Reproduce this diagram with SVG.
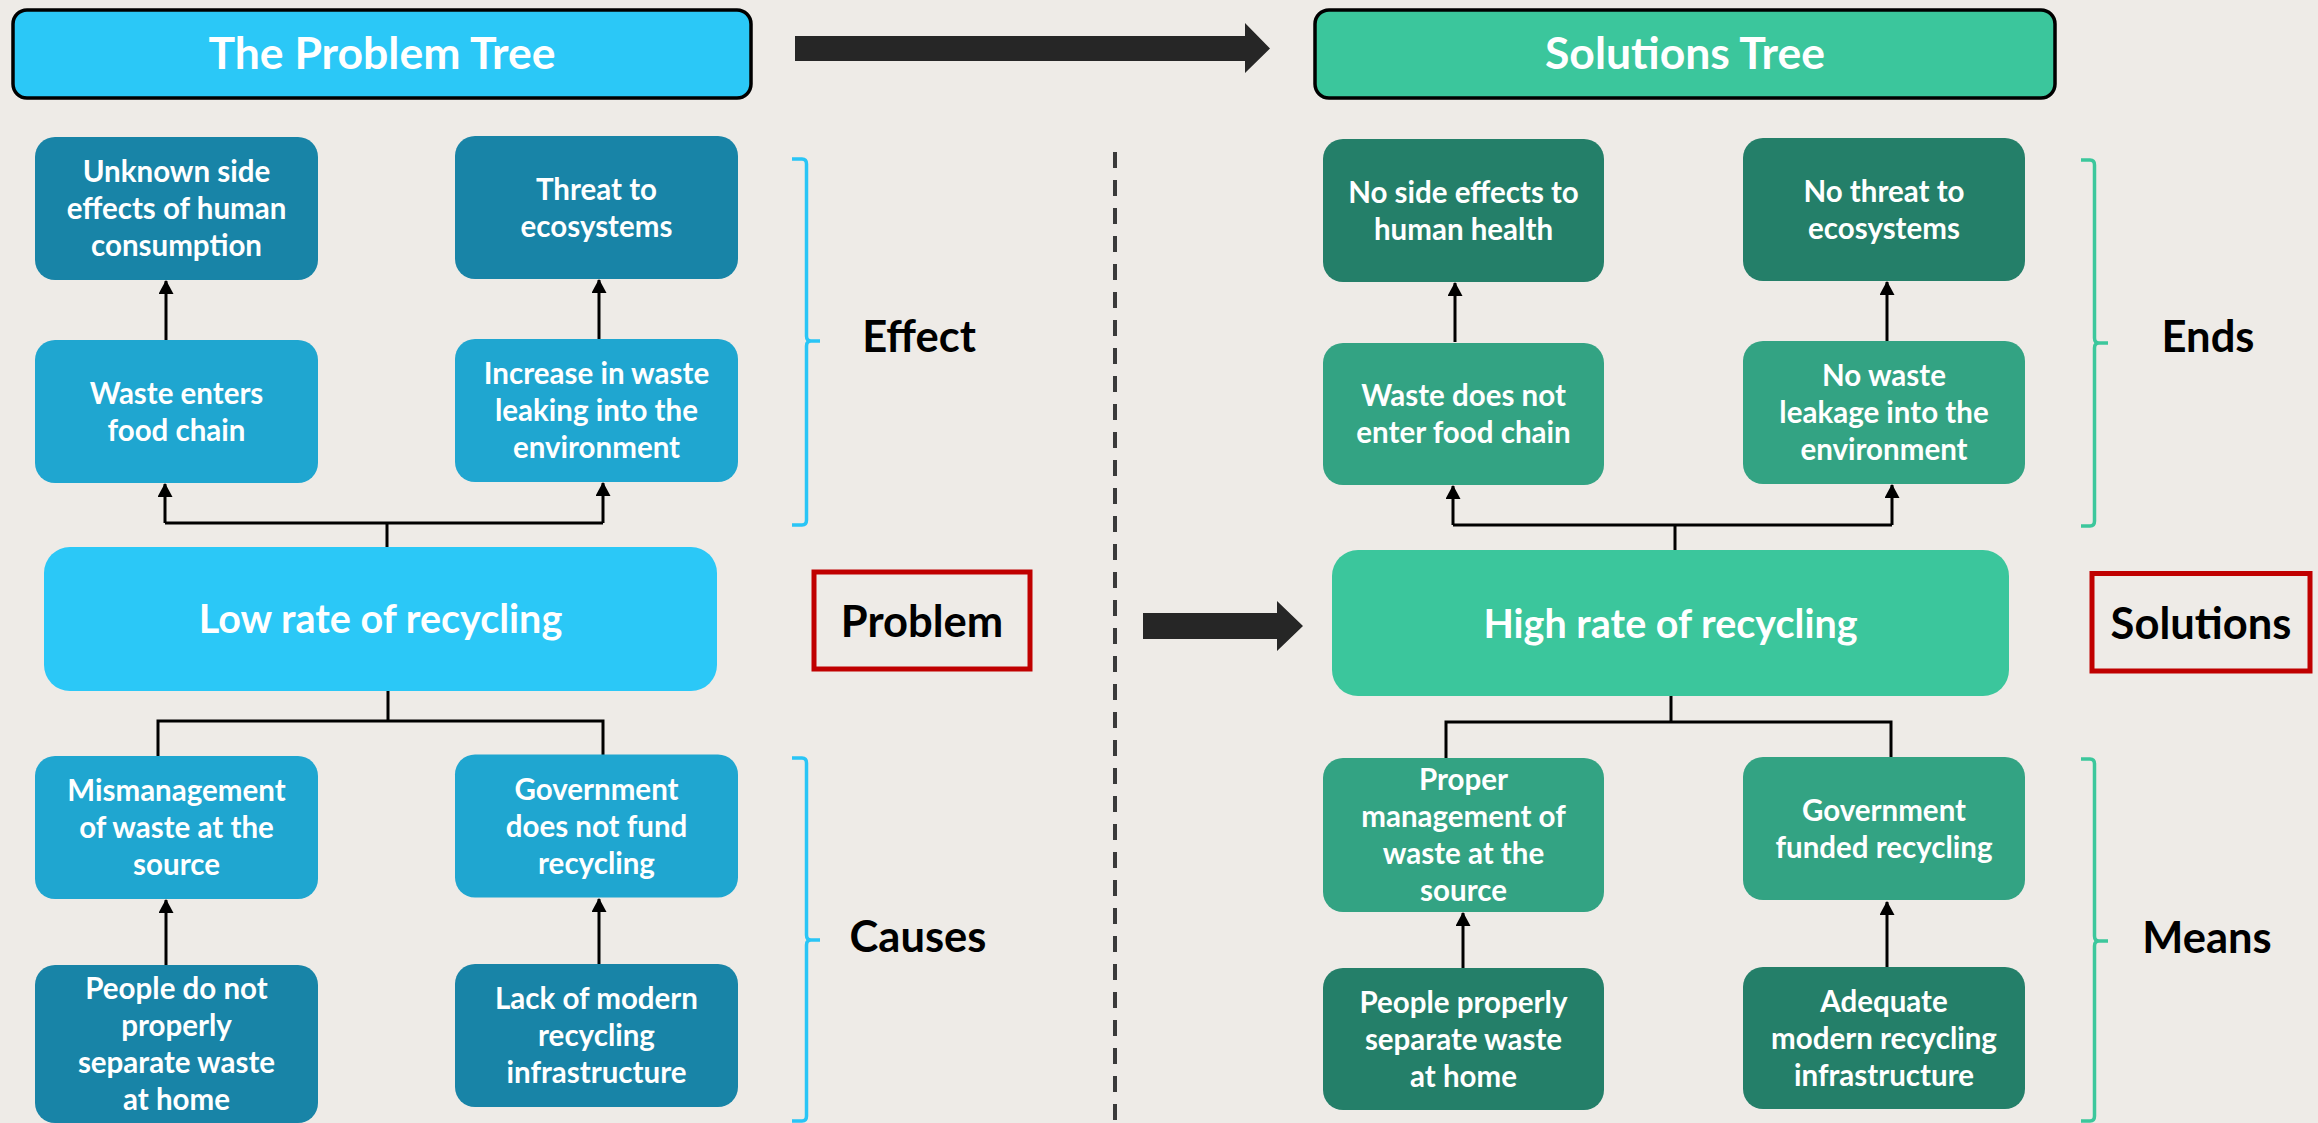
<svg xmlns="http://www.w3.org/2000/svg" width="2318" height="1123" viewBox="0 0 2318 1123">
<defs>
<style>
.nt{font-family:Lato,"Liberation Sans",sans-serif;font-weight:700;font-size:29.5px;fill:#ffffff;text-anchor:middle}
.bt{font-family:Lato,"Liberation Sans",sans-serif;font-weight:700;font-size:39.5px;fill:#ffffff;text-anchor:middle}
.tt{font-family:Lato,"Liberation Sans",sans-serif;font-weight:700;font-size:44.5px;fill:#ffffff;text-anchor:middle}
.lb{font-family:Lato,"Liberation Sans",sans-serif;font-weight:700;font-size:43.5px;fill:#000000;text-anchor:middle}
.db{fill:#1884A7}.mb{fill:#1FA6D0}.lbx{fill:#2BC8F7}
.dg{fill:#247F69}.mg{fill:#33A383}.lg{fill:#3BC69C}
.ttl{stroke:#000;stroke-width:3.5}
.red{fill:none;stroke:#C00000;stroke-width:5}
.con{fill:none;stroke:#000;stroke-width:3}
.arr{fill:none;stroke:#000;stroke-width:3;marker-end:url(#ah)}
.brb{fill:none;stroke:#29C5F6;stroke-width:3.5}
.brg{fill:none;stroke:#3CC79C;stroke-width:3.5}
.big{fill:#262626}
</style>
<marker id="ah" viewBox="0 0 14 15" refX="13" refY="7.5" markerWidth="14" markerHeight="15" markerUnits="userSpaceOnUse" orient="auto">
<path d="M0,0 L14,7.5 L0,15 z" fill="#000"/>
</marker>
</defs>
<rect x="0" y="0" width="2318" height="1123" fill="#EEEBE7"/>

<!-- divider -->
<line x1="1115" y1="152" x2="1115" y2="1123" stroke="#3a3a3a" stroke-width="4" stroke-dasharray="16 12"/>

<!-- big arrows -->
<g id="bigarrows">
<path class="big" d="M795,36 H1245 V23 L1270,48.5 L1245,73 V61 H795 z"/>
<path class="big" d="M1143,613 H1277 V601 L1303,626 L1277,651 V639 H1143 z"/>
</g>

<!-- connectors -->
<g id="connectors">
<path class="arr" d="M166,340 V281"/>
<path class="arr" d="M599,339 V280"/>
<path class="con" d="M387,547 V523 M165,523 H603"/>
<path class="arr" d="M165,523 V484"/>
<path class="arr" d="M603,523 V483"/>
<path class="con" d="M388,691 V721 M158,756 V721 H603 V755"/>
<path class="arr" d="M166,965 V900"/>
<path class="arr" d="M599,964 V899"/>

<path class="arr" d="M1455,342 V283"/>
<path class="arr" d="M1887,341 V282"/>
<path class="con" d="M1675,550 V525 M1453,525 H1892"/>
<path class="arr" d="M1453,525 V486"/>
<path class="arr" d="M1892,525 V485"/>
<path class="con" d="M1671,696 V722 M1446,758 V722 H1891 V757"/>
<path class="arr" d="M1463,968 V913"/>
<path class="arr" d="M1887,967 V902"/>
</g>

<!-- headers -->
<g id="problem-tree-title">
<rect class="lbx ttl" x="13" y="10" width="738" height="88" rx="14"/>
<text class="tt" x="382" y="69">The Problem Tree</text>
</g>
<g id="solutions-tree-title">
<rect class="lg ttl" x="1315" y="10" width="740" height="88" rx="14"/>
<text class="tt" x="1685" y="69">Solutions Tree</text>
</g>

<!-- problem tree nodes -->
<g id="p-unknown">
<rect class="db" x="35" y="137" width="283" height="143" rx="20"/>
<text class="nt" x="176.5" y="182"><tspan x="176.5">Unknown side</tspan><tspan x="176.5" dy="37">effects of human</tspan><tspan x="176.5" dy="37">consumption</tspan></text>
</g>
<g id="p-threat">
<rect class="db" x="455" y="136" width="283" height="143" rx="20"/>
<text class="nt" x="596.5" y="199.5"><tspan x="596.5">Threat to</tspan><tspan x="596.5" dy="37">ecosystems</tspan></text>
</g>
<g id="p-foodchain">
<rect class="mb" x="35" y="340" width="283" height="143" rx="20"/>
<text class="nt" x="176.5" y="403.5"><tspan x="176.5">Waste enters</tspan><tspan x="176.5" dy="37">food chain</tspan></text>
</g>
<g id="p-leaking">
<rect class="mb" x="455" y="339" width="283" height="143" rx="20"/>
<text class="nt" x="596.5" y="384"><tspan x="596.5">Increase in waste</tspan><tspan x="596.5" dy="37">leaking into the</tspan><tspan x="596.5" dy="37">environment</tspan></text>
</g>
<g id="p-low-rate">
<rect class="lbx" x="44" y="547" width="673" height="144" rx="26"/>
<text class="bt" x="380.5" y="633">Low rate of recycling</text>
</g>
<g id="p-mismanagement">
<rect class="mb" x="35" y="756" width="283" height="143" rx="20"/>
<text class="nt" x="176.5" y="801"><tspan x="176.5">Mismanagement</tspan><tspan x="176.5" dy="37">of waste at the</tspan><tspan x="176.5" dy="37">source</tspan></text>
</g>
<g id="p-government">
<rect class="mb" x="455" y="754.5" width="283" height="143" rx="20"/>
<text class="nt" x="596.5" y="799.5"><tspan x="596.5">Government</tspan><tspan x="596.5" dy="37">does not fund</tspan><tspan x="596.5" dy="37">recycling</tspan></text>
</g>
<g id="p-people">
<rect class="db" x="35" y="965" width="283" height="158" rx="20"/>
<text class="nt" x="176.5" y="999"><tspan x="176.5">People do not</tspan><tspan x="176.5" dy="37">properly</tspan><tspan x="176.5" dy="37">separate waste</tspan><tspan x="176.5" dy="37">at home</tspan></text>
</g>
<g id="p-lack">
<rect class="db" x="455" y="964" width="283" height="143" rx="20"/>
<text class="nt" x="596.5" y="1009"><tspan x="596.5">Lack of modern</tspan><tspan x="596.5" dy="37">recycling</tspan><tspan x="596.5" dy="37">infrastructure</tspan></text>
</g>

<!-- problem labels -->
<g id="effect-label">
<path class="brb" d="M792,159 H802 Q806.5,159 806.5,164 V336 Q806.5,341 811,341 H820 M806.5,346 Q806.5,341 811,341 M806.5,346 V520 Q806.5,525 802,525 H792"/>
<text class="lb" x="919" y="352">Effect</text>
</g>
<g id="problem-label">
<rect class="red" x="814" y="572" width="216" height="97"/>
<text class="lb" x="922" y="637">Problem</text>
</g>
<g id="causes-label">
<path class="brb" d="M792,758 H802 Q806.5,758 806.5,763 V935 Q806.5,940 811,940 H820 M806.5,945 Q806.5,940 811,940 M806.5,945 V1116 Q806.5,1121 802,1121 H792"/>
<text class="lb" x="918" y="952">Causes</text>
</g>

<!-- solution tree nodes -->
<g id="s-noside">
<rect class="dg" x="1323" y="139" width="281" height="143" rx="20"/>
<text class="nt" x="1463.5" y="202.5"><tspan x="1463.5">No side effects to</tspan><tspan x="1463.5" dy="37">human health</tspan></text>
</g>
<g id="s-nothreat">
<rect class="dg" x="1743" y="138" width="282" height="143" rx="20"/>
<text class="nt" x="1884" y="201.5"><tspan x="1884">No threat to</tspan><tspan x="1884" dy="37">ecosystems</tspan></text>
</g>
<g id="s-foodchain">
<rect class="mg" x="1323" y="343" width="281" height="142" rx="20"/>
<text class="nt" x="1463.5" y="406"><tspan x="1463.5">Waste does not</tspan><tspan x="1463.5" dy="37">enter food chain</tspan></text>
</g>
<g id="s-leakage">
<rect class="mg" x="1743" y="341" width="282" height="143" rx="20"/>
<text class="nt" x="1884" y="386"><tspan x="1884">No waste</tspan><tspan x="1884" dy="37">leakage into the</tspan><tspan x="1884" dy="37">environment</tspan></text>
</g>
<g id="s-high-rate">
<rect class="lg" x="1332" y="550" width="677" height="146" rx="26"/>
<text class="bt" x="1670.5" y="638">High rate of recycling</text>
</g>
<g id="s-proper">
<rect class="mg" x="1323" y="758" width="281" height="154" rx="20"/>
<text class="nt" x="1463.5" y="790"><tspan x="1463.5">Proper</tspan><tspan x="1463.5" dy="37">management of</tspan><tspan x="1463.5" dy="37">waste at the</tspan><tspan x="1463.5" dy="37">source</tspan></text>
</g>
<g id="s-government">
<rect class="mg" x="1743" y="757" width="282" height="143" rx="20"/>
<text class="nt" x="1884" y="820.5"><tspan x="1884">Government</tspan><tspan x="1884" dy="37">funded recycling</tspan></text>
</g>
<g id="s-people">
<rect class="dg" x="1323" y="968" width="281" height="142" rx="20"/>
<text class="nt" x="1463.5" y="1012.5"><tspan x="1463.5">People properly</tspan><tspan x="1463.5" dy="37">separate waste</tspan><tspan x="1463.5" dy="37">at home</tspan></text>
</g>
<g id="s-adequate">
<rect class="dg" x="1743" y="967" width="282" height="142" rx="20"/>
<text class="nt" x="1884" y="1011.5"><tspan x="1884">Adequate</tspan><tspan x="1884" dy="37">modern recycling</tspan><tspan x="1884" dy="37">infrastructure</tspan></text>
</g>

<!-- solution labels -->
<g id="ends-label">
<path class="brg" d="M2081,160 H2090 Q2094.5,160 2094.5,165 V338 Q2094.5,343 2099,343 H2108 M2094.5,348 Q2094.5,343 2099,343 M2094.5,348 V521 Q2094.5,526 2090,526 H2081"/>
<text class="lb" x="2208" y="352">Ends</text>
</g>
<g id="solutions-label">
<rect class="red" x="2092" y="573.5" width="218" height="97.5"/>
<text class="lb" x="2201" y="638.5">Solutions</text>
</g>
<g id="means-label">
<path class="brg" d="M2081,759 H2090 Q2094.5,759 2094.5,764 V936 Q2094.5,941 2099,941 H2108 M2094.5,946 Q2094.5,941 2099,941 M2094.5,946 V1116 Q2094.5,1121 2090,1121 H2081"/>
<text class="lb" x="2207" y="952.5">Means</text>
</g>
</svg>
